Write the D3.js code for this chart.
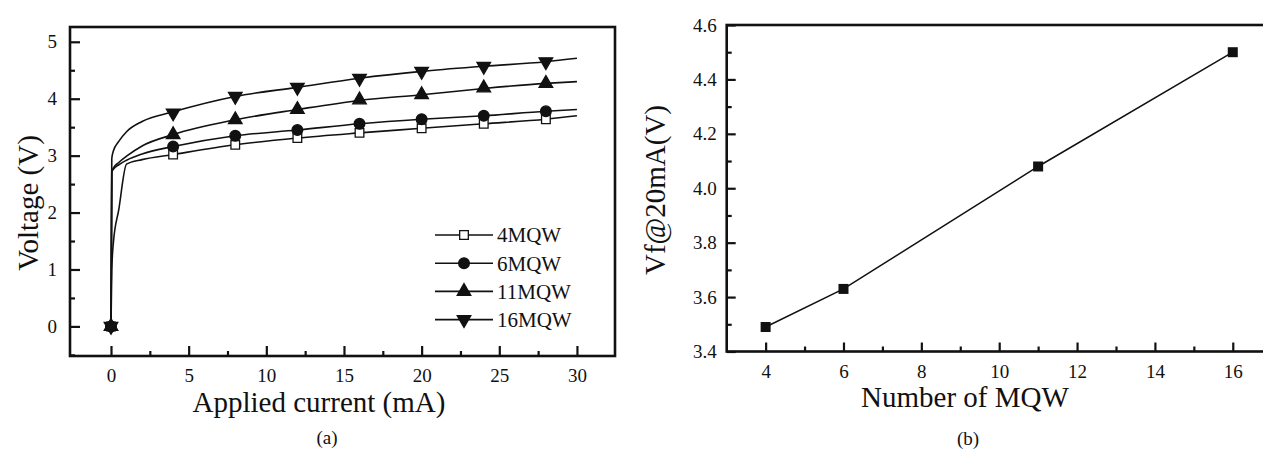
<!DOCTYPE html>
<html>
<head>
<meta charset="utf-8">
<script src="https://cdnjs.cloudflare.com/ajax/libs/d3/7.8.5/d3.min.js"></script>
<style>
  body { margin: 0; background: #fff; }
  svg text { font-family: "Liberation Serif", "Times New Roman", serif !important; fill: #111; }
</style>
</head>
<body>
<svg id="chart" width="1263" height="455"></svg>
<script>
// Panel (a): I-V curves
const seriesNames = ["4MQW", "6MQW", "11MQW", "16MQW"];
const curveCurrent = [0, 0.05, 0.15, 0.5, 1, 2, 4, 8, 12, 16, 20, 24, 28, 30];
const curve4 = [0, 1.0, 1.46, 2.05, 2.85, 2.93, 3.02, 3.19, 3.31, 3.40, 3.48, 3.56, 3.64, 3.70];
const curve6 = [0, 2.72, 2.76, 2.84, 2.92, 3.03, 3.16, 3.35, 3.45, 3.56, 3.64, 3.70, 3.78, 3.81];
const curve11 = [0, 2.72, 2.78, 2.88, 2.99, 3.17, 3.37, 3.63, 3.81, 3.97, 4.07, 4.18, 4.27, 4.30];
const curve16 = [0, 2.95, 3.08, 3.25, 3.42, 3.60, 3.77, 4.04, 4.20, 4.36, 4.48, 4.57, 4.65, 4.71];

const markerCurrent = [0, 4, 8, 12, 16, 20, 24, 28];
const marker4 = [0, 3.02, 3.19, 3.31, 3.40, 3.48, 3.56, 3.64];
const marker6 = [0, 3.16, 3.35, 3.45, 3.56, 3.64, 3.70, 3.78];
const marker11 = [0, 3.37, 3.63, 3.81, 3.98, 4.07, 4.19, 4.27];
const marker16 = [0, 3.75, 4.04, 4.20, 4.36, 4.48, 4.57, 4.65];

// Panel (b): Vf at 20 mA
const mqwCount = [4, 6, 11, 16];
const vf20 = [3.49, 3.63, 4.08, 4.50];

const svg = d3.select("#chart");

// ---------- panel (a) ----------
const ax = d3.scaleLinear().domain([-2.64, 32.45]).range([70, 615]);
const ay = d3.scaleLinear().domain([-0.52, 5.26]).range([356, 27]);

const pa = svg.append("g");

function inwardAxis(g, axis, values, size, fmt, pad) {
  g.call(axis.tickValues(values).tickSizeInner(-size).tickSizeOuter(0)
    .tickPadding(pad).tickFormat(fmt));
  g.select(".domain").remove();
  g.selectAll(".tick line").attr("stroke", "#111").attr("stroke-width", 2.2);
}

const axBottom = pa.append("g").attr("transform", "translate(0,356)");
inwardAxis(axBottom, d3.axisBottom(ax), [0, 5, 10, 15, 20, 25, 30], 10, d3.format("d"), 13);
const axBottomMinor = pa.append("g").attr("transform", "translate(0,356)");
inwardAxis(axBottomMinor, d3.axisBottom(ax), [2.5, 7.5, 12.5, 17.5, 22.5, 27.5], 5, () => "", 0);

const axLeft = pa.append("g").attr("transform", "translate(70,0)");
inwardAxis(axLeft, d3.axisLeft(ay), [0, 1, 2, 3, 4, 5], 10, d3.format("d"), 13);
const axLeftMinor = pa.append("g").attr("transform", "translate(70,0)");
inwardAxis(axLeftMinor, d3.axisLeft(ay), [-0.5, 0.5, 1.5, 2.5, 3.5, 4.5], 5, () => "", 0);

pa.selectAll(".tick text").attr("font-size", 19).attr("fill", "#111");

pa.append("rect")
  .attr("x", 70).attr("y", 27).attr("width", 545).attr("height", 329)
  .attr("fill", "none").attr("stroke", "#111").attr("stroke-width", 2.6);

const curves = [curve4, curve6, curve11, curve16];
const markers = [marker4, marker6, marker11, marker16];

const lineA = d3.line()
  .x(d => ax(d[0])).y(d => ay(d[1]))
  .curve(d3.curveMonotoneX);

curves.forEach(c => {
  pa.append("path")
    .datum(curveCurrent.map((x, i) => [x, c[i]]))
    .attr("d", lineA)
    .attr("fill", "none").attr("stroke", "#111").attr("stroke-width", 1.6);
});

const symbols = [
  { type: d3.symbolSquare, size: 75, fill: "#fff", rot: 0 },
  { type: d3.symbolCircle, size: 90, fill: "#111", rot: 0 },
  { type: d3.symbolTriangle, size: 80, fill: "#111", rot: 0 },
  { type: d3.symbolTriangle, size: 80, fill: "#111", rot: 180 }
];

markers.forEach((m, si) => {
  const s = symbols[si];
  pa.append("g").selectAll("path")
    .data(markerCurrent.map((x, i) => [x, m[i]]))
    .join("path")
    .attr("transform", d => `translate(${ax(d[0])},${ay(d[1])}) rotate(${s.rot})`)
    .attr("d", d3.symbol().type(s.type).size(s.size))
    .attr("fill", s.fill).attr("stroke", "#111").attr("stroke-width", 1.3);
});

// legend
const legend = pa.append("g").selectAll("g")
  .data(seriesNames)
  .join("g")
  .attr("transform", (d, i) => `translate(435,${235 + i * 28.2})`);

legend.append("line")
  .attr("x1", 0).attr("x2", 58)
  .attr("stroke", "#111").attr("stroke-width", 1.6);

legend.append("path")
  .attr("transform", (d, i) => `translate(29,0) rotate(${symbols[i].rot})`)
  .attr("d", (d, i) => d3.symbol().type(symbols[i].type).size(symbols[i].size)())
  .attr("fill", (d, i) => symbols[i].fill)
  .attr("stroke", "#111").attr("stroke-width", 1.3);

legend.append("text")
  .attr("x", 62).attr("dy", "0.35em")
  .attr("font-size", 21)
  .text(d => d);

pa.append("text")
  .attr("x", 319).attr("y", 412)
  .attr("text-anchor", "middle").attr("font-size", 29)
  .text("Applied current (mA)");

pa.append("text")
  .attr("transform", "translate(38,203) rotate(-90)")
  .attr("text-anchor", "middle").attr("font-size", 29)
  .text("Voltage (V)");

pa.append("text")
  .attr("x", 327).attr("y", 444)
  .attr("text-anchor", "middle").attr("font-size", 19)
  .text("(a)");

// ---------- panel (b) ----------
const bx = d3.scaleLinear().domain([3, 17]).range([726.7, 1271.7]);
const by = d3.scaleLinear().domain([3.4, 4.6]).range([351.5, 25]);

const pb = svg.append("g");

const bxAxis = pb.append("g").attr("transform", "translate(0,351.5)");
inwardAxis(bxAxis, d3.axisBottom(bx), [4, 6, 8, 10, 12, 14, 16], 9, d3.format("d"), 13);
const bxMinor = pb.append("g").attr("transform", "translate(0,351.5)");
inwardAxis(bxMinor, d3.axisBottom(bx), [5, 7, 9, 11, 13, 15], 5, () => "", 0);

const byAxis = pb.append("g").attr("transform", "translate(726.7,0)");
inwardAxis(byAxis, d3.axisLeft(by), [3.4, 3.6, 3.8, 4.0, 4.2, 4.4, 4.6], 9, d3.format(".1f"), 10);
const byMinor = pb.append("g").attr("transform", "translate(726.7,0)");
inwardAxis(byMinor, d3.axisLeft(by), [3.5, 3.7, 3.9, 4.1, 4.3, 4.5], 5, () => "", 0);

pb.selectAll(".tick text").attr("font-size", 19).attr("fill", "#111");

pb.append("rect")
  .attr("x", 726.7).attr("y", 25).attr("width", 545).attr("height", 326.5)
  .attr("fill", "none").attr("stroke", "#111").attr("stroke-width", 2.6);

const ptsB = mqwCount.map((x, i) => [x, vf20[i]]);

pb.append("path")
  .datum(ptsB)
  .attr("d", d3.line().x(d => bx(d[0])).y(d => by(d[1])))
  .attr("fill", "none").attr("stroke", "#111").attr("stroke-width", 1.5);

pb.append("g").selectAll("rect")
  .data(ptsB)
  .join("rect")
  .attr("x", d => bx(d[0]) - 5).attr("y", d => by(d[1]) - 5)
  .attr("width", 10).attr("height", 10)
  .attr("fill", "#111");

pb.append("text")
  .attr("x", 965).attr("y", 407)
  .attr("text-anchor", "middle").attr("font-size", 29)
  .text("Number of MQW");

pb.append("text")
  .attr("transform", "translate(665,190) rotate(-90)")
  .attr("text-anchor", "middle").attr("font-size", 29)
  .text("Vf@20mA(V)");

pb.append("text")
  .attr("x", 968).attr("y", 445)
  .attr("text-anchor", "middle").attr("font-size", 19)
  .text("(b)");
</script>
</body>
</html>
